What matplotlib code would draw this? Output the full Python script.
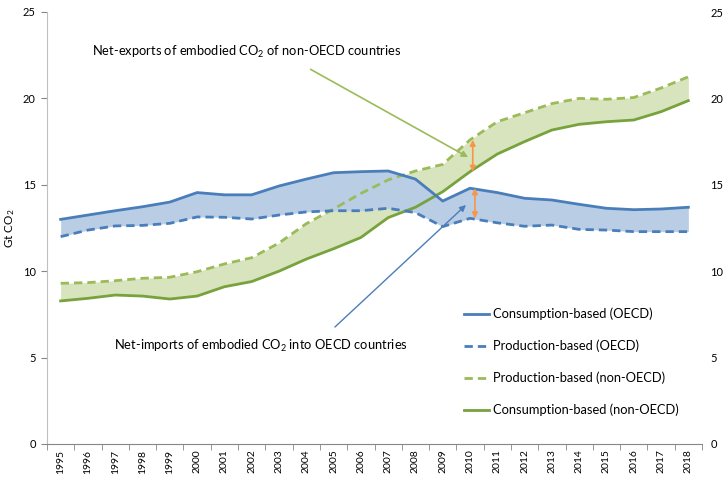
import matplotlib

matplotlib.use("Agg")
import matplotlib.pyplot as plt
import numpy as np

plt.rcParams["font.family"] = ["Lato", "DejaVu Sans"]
plt.rcParams["mathtext.fontset"] = "custom"
plt.rcParams["mathtext.rm"] = "Lato"
plt.rcParams["mathtext.it"] = "Lato"

years = [str(y) for y in range(1995, 2019)]

# Gt CO2
cons_oecd = [13.0, 13.25, 13.5, 13.73, 14.0, 14.55, 14.42, 14.42, 14.93, 15.33, 15.7, 15.76,
             15.8, 15.33, 14.06, 14.8, 14.55, 14.22, 14.12, 13.87, 13.64, 13.56, 13.6, 13.7]
prod_oecd = [12.0, 12.38, 12.62, 12.65, 12.77, 13.14, 13.12, 13.02, 13.25, 13.43, 13.5, 13.5,
             13.64, 13.39, 12.58, 13.06, 12.8, 12.6, 12.67, 12.42, 12.38, 12.29, 12.29, 12.29]
prod_non_oecd = [9.3, 9.34, 9.45, 9.59, 9.65, 9.97, 10.42, 10.78, 11.63, 12.75, 13.6, 14.5,
                 15.28, 15.8, 16.18, 17.6, 18.65, 19.17, 19.7, 20.0, 19.95, 20.05, 20.6, 21.25]
cons_non_oecd = [8.28, 8.43, 8.62, 8.56, 8.39, 8.56, 9.1, 9.4, 10.0, 10.7, 11.3, 11.95,
                 13.1, 13.7, 14.6, 15.76, 16.78, 17.5, 18.17, 18.5, 18.65, 18.75, 19.23, 19.87]

labels = ["Consumption-based (OECD)", "Production-based (OECD)",
          "Production-based (non-OECD)", "Consumption-based (non-OECD)"]

BLUE = "#4a7ebb"
BLUE_FILL = "#b9cde5"
GREEN_D = "#9bbb59"
GREEN_S = "#77a23c"
GREEN_FILL = "#d7e4bd"
ORANGE = "#f79646"

fig = plt.figure(figsize=(7.27, 4.79), dpi=100)
ax = fig.add_axes([47 / 727, 1 - 444 / 479, 655 / 727, 432 / 479])

x = np.arange(len(years))
ax.fill_between(x, prod_non_oecd, cons_non_oecd, color=GREEN_FILL, lw=0, zorder=1)
ax.fill_between(x, cons_oecd, prod_oecd, color=BLUE_FILL, lw=0, zorder=2)

l1, = ax.plot(x, cons_oecd, color=BLUE, lw=2, zorder=4)
l2, = ax.plot(x, prod_oecd, color=BLUE, lw=2, ls=(0, (3, 1.8)), zorder=4)
l3, = ax.plot(x, prod_non_oecd, color=GREEN_D, lw=2, ls=(0, (3, 1.8)), zorder=3)
l4, = ax.plot(x, cons_non_oecd, color=GREEN_S, lw=2, zorder=3)

ax.set_xlim(-0.5, len(years) - 0.5)
ax.set_ylim(0, 25)
ax.set_yticks(range(0, 26, 5))
ax.set_xticks(x)
ax.set_xticklabels(years, rotation=90, fontsize=7.5)
ax.set_xticks(np.arange(-0.5, len(years), 1), minor=True)
ax.tick_params(axis="x", which="major", length=0, pad=4)
ax.tick_params(axis="x", which="minor", length=4, color="#868686")
ax.tick_params(axis="y", length=4, color="#868686", labelsize=8, pad=4)

for side in ["top", "right"]:
    ax.spines[side].set_visible(False)
ax.spines["left"].set_color("#bfbfbf")
ax.spines["bottom"].set_color("#868686")

ax.set_ylabel("Gt CO$_2$", fontsize=8.5, labelpad=4)

# right-hand duplicate axis labels
ax2 = ax.twinx()
ax2.set_ylim(0, 25)
ax2.set_yticks(range(0, 26, 5))
ax2.tick_params(axis="y", length=0, labelsize=8, pad=6)
for side in ["top", "right", "left", "bottom"]:
    ax2.spines[side].set_visible(False)

# orange double arrows marking the gaps in 2010
i10 = years.index("2010")
ax.annotate("", xy=(i10 + 0.1, cons_non_oecd[i10]), xytext=(i10 + 0.1, prod_non_oecd[i10]),
            arrowprops=dict(arrowstyle="<|-|>", color=ORANGE, lw=1.2,
                            mutation_scale=8, shrinkA=0, shrinkB=0), zorder=6)
ax.annotate("", xy=(i10 + 0.18, prod_oecd[i10]), xytext=(i10 + 0.18, cons_oecd[i10]),
            arrowprops=dict(arrowstyle="<|-|>", color=ORANGE, lw=1.2,
                            mutation_scale=8, shrinkA=0, shrinkB=0), zorder=6)

ax.annotate("", xy=(14.93, 16.6), xytext=(9.16, 21.68),
            arrowprops=dict(arrowstyle="-|>", color=GREEN_D, lw=1.2,
                            mutation_scale=9, shrinkA=0, shrinkB=0), zorder=6)
ax.annotate("", xy=(14.85, 13.83), xytext=(10.05, 6.77),
            arrowprops=dict(arrowstyle="-|>", color=BLUE, lw=1.0,
                            mutation_scale=9, shrinkA=0, shrinkB=0), zorder=6)

ax.text(1.15, 22.69, "Net-exports of embodied CO$_2$ of non-OECD countries",
        fontsize=9.3, va="center", ha="left")
ax.text(1.95, 5.67, "Net-imports of embodied CO$_2$ into OECD countries",
        fontsize=9.3, va="center", ha="left")

fig.legend([l1, l2, l3, l4], labels, loc="center left",
           bbox_to_anchor=(452 / 727, 1 - 362 / 479), frameon=False,
           fontsize=9.3, handlelength=2.0, handletextpad=0.3, labelspacing=1.5)

fig.savefig("out.png", dpi=100)
